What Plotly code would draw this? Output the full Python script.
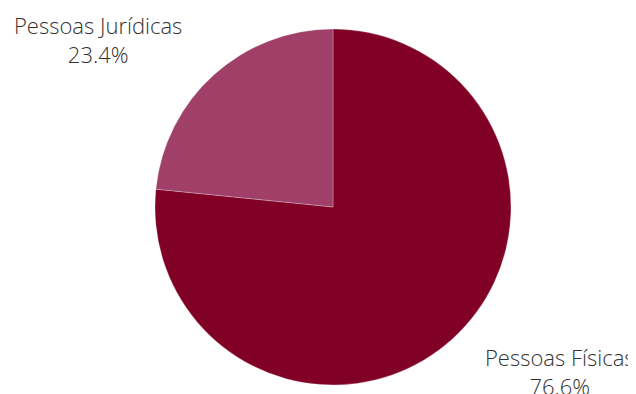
import math
import plotly.graph_objects as go

labels = ["Pessoas Físicas", "Pessoas Jurídicas"]
values = [76.6, 23.4]
colors = ["#800026", "#a04068"]

W, H = 636, 394
# pie geometry (figure pixels; page body adds an 8px offset)
cx_px, cy_px, R = 325, 199, 178
dom_x = [(cx_px - R) / W, (cx_px + R) / W]
dom_y = [(H - cy_px - R) / H, (H - cy_px + R) / H]

fig = go.Figure(go.Pie(
    labels=labels,
    values=values,
    marker=dict(colors=colors, line=dict(color="rgba(255,255,255,0.5)", width=0.5)),
    textinfo="none",
    sort=True,
    direction="clockwise",
    rotation=0,
    showlegend=False,
    hovertemplate="%{label}<br>%{percent:.1%}<extra></extra>",
    domain=dict(x=dom_x, y=dom_y),
))

# outside labels placed along each slice's mid-angle
total = sum(values)
kx, ky = 1.936, 1.26
shift_x, shift_y = -4, 1.5  # label block shift in px (y upward)
annotations = []
cum = 0.0
for lab, val in zip(labels, values):
    mid = (cum + val / 2) / total * 2 * math.pi  # clockwise from top
    cum += val
    dx = kx * R * math.sin(mid) + shift_x
    dy = ky * R * math.cos(mid) + shift_y
    annotations.append(dict(
        x=cx_px / W + dx / W,
        y=(H - cy_px) / H + dy / H,
        xref="paper", yref="paper",
        text=f"{lab}<br>{val / total * 100:.1f}%",
        showarrow=False,
        xanchor="center", yanchor="middle",
        align="center",
        font=dict(family="Open Sans", size=22, color="#333333", weight=300),
    ))

fig.update_layout(
    width=W, height=H,
    margin=dict(l=0, r=0, t=0, b=0),
    paper_bgcolor="white",
    plot_bgcolor="white",
    font=dict(family="Open Sans", color="#333333"),
    annotations=annotations,
)

fig.write_html("out.html", post_script="document.documentElement.style.overflow='hidden';document.body.style.overflow='hidden';")
